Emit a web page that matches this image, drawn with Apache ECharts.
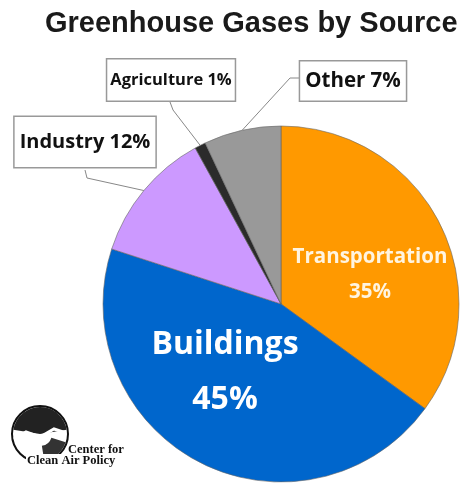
<!DOCTYPE html>
<html><head><meta charset="utf-8">
<script src="https://cdn.jsdelivr.net/npm/echarts@6/dist/echarts.min.js"></script>
<style>html,body{margin:0;padding:0;background:#fff}#c{width:470px;height:485px}</style>
</head><body><div id="c"></div>
<script>
// ---- data ----
const categories = ['Transportation', 'Buildings', 'Industry', 'Agriculture', 'Other'];
const values = [35, 45, 12, 1, 7];

// ---- styling / layout (not data) ----
const colors = ['#FF9900', '#0066CC', '#CC99FF', '#2B2B2B', '#999999'];
const labelCenters = [[370, 275], [225, 372], [85, 142], [171, 80], [353, 81]];
const leaderBends = [null, null, [[87, 178], [85, 170]], [[173, 110], [170, 102]], [[290, 78], [300, 78]]];
const FONT = '"Open Sans", Lato, sans-serif';

const insideStyles = [
  { fontSize: 20.5, lineHeight: 35, color: '#FFF4E0' },
  { fontSize: 32, lineHeight: 55, color: '#FFFFFF' }
];
const outsideStyles = [null, null,
  { fontSize: 20, padding: [15, 5] },
  { fontSize: 16.5, padding: [12, 3] },
  { fontSize: 20.5, padding: [9, 5] }
];

const data = categories.map((name, i) => {
  const item = { name, value: values[i], itemStyle: { color: colors[i] } };
  if (i < 2) {
    item.label = Object.assign({
      position: 'inside', fontWeight: 'bold', fontFamily: FONT,
      formatter: '{b}\n{c}%'
    }, insideStyles[i]);
    item.labelLine = { show: false };
  } else {
    item.label = Object.assign({
      position: 'outside', fontWeight: 'bold', fontFamily: FONT, color: '#111',
      backgroundColor: '#fff', borderColor: '#999', borderWidth: 1.5,
      formatter: '{b} {c}%'
    }, outsideStyles[i]);
    item.labelLine = { show: true, lineStyle: { color: '#888', width: 1 } };
  }
  return item;
});

const chart = echarts.init(document.getElementById('c'), null, { renderer: 'canvas' });
chart.setOption({
  backgroundColor: '#fff',
  animation: false,
  title: {
    text: 'Greenhouse Gases by Source', left: 40, top: 4,
    textStyle: { fontSize: 29, fontWeight: 'bold', fontFamily: '"Liberation Sans", Arial, sans-serif', color: '#1a1a1a' }
  },
  graphic: [
    { type: 'circle', shape: { cx: 40, cy: 434, r: 28 }, style: { fill: '#fff', stroke: '#111', lineWidth: 2 } },
    { type: 'sector', shape: { cx: 40, cy: 434, r: 27, r0: 0, startAngle: Math.PI * 1.05, endAngle: Math.PI * 1.95 }, style: { fill: '#222' } },
    { type: 'sector', shape: { cx: 40, cy: 434, r: 27, r0: 12, startAngle: Math.PI * 0.1, endAngle: Math.PI * 0.45 }, style: { fill: '#333' } },
    { type: 'polyline', shape: { points: [[14, 439], [26, 432], [40, 437], [54, 429], [66, 433]] }, style: { stroke: '#fff', lineWidth: 3, fill: null } },
    { type: 'rect', shape: { x: 26, y: 454, width: 104, height: 12 }, style: { fill: '#fff' } },
    { type: 'text', left: 68, top: 443, style: { text: 'Center for', font: 'bold 12.5px "Liberation Serif", serif', fill: '#111' } },
    { type: 'text', left: 27, top: 454, style: { text: 'Clean Air Policy', font: 'bold 12.5px "Liberation Serif", serif', fill: '#111' } }
  ],
  series: [{
    type: 'pie',
    center: [281, 304],
    radius: 178,
    startAngle: 90,
    clockwise: true,
    avoidLabelOverlap: false,
    itemStyle: { borderColor: '#666', borderWidth: 0.6 },
    emphasis: { disabled: true },
    labelLayout: function (params) {
      const i = params.dataIndex;
      const res = { x: labelCenters[i][0], y: labelCenters[i][1], align: 'center', verticalAlign: 'middle' };
      if (leaderBends[i] && params.labelLinePoints) {
        const p0 = params.labelLinePoints[0];
        res.labelLinePoints = [[p0[0], p0[1]]].concat(leaderBends[i].map(p => [p[0], p[1]]));
      }
      return res;
    },
    data
  }]
});
</script></body></html>
